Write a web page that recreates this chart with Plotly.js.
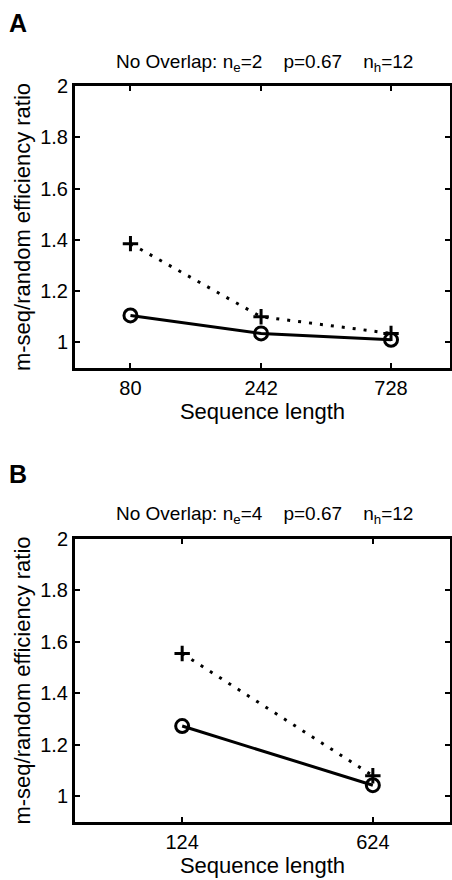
<!DOCTYPE html>
<html>
<head>
<meta charset="utf-8">
<script src="https://cdn.plot.ly/plotly-3.0.1.min.js"></script>
<style>html,body{margin:0;padding:0;background:#fff;} #chart{width:452px;height:880px;}</style>
</head>
<body>
<div id="chart"></div>
<script>
// Panel A data
const xA = [80, 242, 728];
const xA_labels = ['80', '242', '728'];
const circA = [1.105, 1.035, 1.01];
const plusA = [1.385, 1.10, 1.035];
// Panel B data
const xB = [124, 624];
const xB_labels = ['124', '624'];
const circB = [1.273, 1.043];
const plusB = [1.555, 1.08];
// Tick labels for y
const yTicks = [1, 1.2, 1.4, 1.6, 1.8, 2];
const yTickText = ['1', '1.2', '1.4', '1.6', '1.8', '2'];

const FONT = 'Liberation Sans, Arial, Helvetica, sans-serif';

function plusTrace(x, y, xa, ya) {
  return {
    x: x, y: y, xaxis: xa, yaxis: ya, type: 'scatter', mode: 'lines+markers',
    line: {color: 'black', width: 3, dash: '3px,8px'},
    marker: {symbol: 'cross-thin-open', size: 11, color: 'black', line: {color: 'black', width: 3}},
    showlegend: false, hoverinfo: 'x+y'
  };
}
function circTrace(x, y, xa, ya) {
  return {
    x: x, y: y, xaxis: xa, yaxis: ya, type: 'scatter', mode: 'lines+markers',
    line: {color: 'black', width: 3},
    marker: {symbol: 'circle-open', size: 13, color: 'black', line: {color: 'black', width: 3}},
    showlegend: false, hoverinfo: 'x+y'
  };
}

const data = [
  plusTrace(xA, plusA, 'x', 'y'),
  circTrace(xA, circA, 'x', 'y'),
  plusTrace(xB, plusB, 'x2', 'y2'),
  circTrace(xB, circB, 'x2', 'y2')
];

function xAxis(vals, txt, anchor) {
  return {
    type: 'log', range: [Math.log10(50), Math.log10(1200)],
    domain: [75/452, 450/452], anchor: anchor,
    tickmode: 'array', tickvals: vals, ticktext: txt,
    ticks: 'inside', ticklen: 5, tickwidth: 2, tickcolor: 'black',
    showline: true, linewidth: 3, linecolor: 'black', mirror: 'ticks',
    showgrid: false, zeroline: false,
    tickfont: {family: FONT, size: 20, color: 'black'},
    title: {text: 'Sequence length', font: {family: FONT, size: 22, color: 'black'}, standoff: 2}
  };
}
function yAxis(domain, anchor) {
  return {
    range: [0.9, 2], domain: domain, anchor: anchor,
    tickmode: 'array', tickvals: yTicks, ticktext: yTickText,
    ticks: 'inside', ticklen: 5, tickwidth: 2, tickcolor: 'black',
    showline: true, linewidth: 3, linecolor: 'black', mirror: 'ticks',
    showgrid: false, zeroline: false,
    tickfont: {family: FONT, size: 20, color: 'black'},
    title: {text: 'm-seq/random efficiency ratio', font: {family: FONT, size: 22, color: 'black'}, standoff: 4}
  };
}

const sp = '\u00A0\u00A0\u00A0\u00A0';
const layout = {
  width: 452, height: 880,
  margin: {l: 0, r: 0, t: 0, b: 0},
  paper_bgcolor: 'white', plot_bgcolor: 'white',
  font: {family: FONT, color: 'black'},
  xaxis: xAxis(xA, xA_labels, 'y'),
  yaxis: yAxis([1 - 368/880, 1 - 86/880], 'x'),
  xaxis2: xAxis(xB, xB_labels, 'y2'),
  yaxis2: yAxis([1 - 822/880, 1 - 539/880], 'x2'),
  annotations: [
    {text: '<b>A</b>', xref: 'paper', yref: 'paper', x: 7/452, y: 1 - 7/880, xanchor: 'left', yanchor: 'top', showarrow: false, font: {family: FONT, size: 25, color: 'black'}},
    {text: '<b>B</b>', xref: 'paper', yref: 'paper', x: 7/452, y: 1 - 458/880, xanchor: 'left', yanchor: 'top', showarrow: false, font: {family: FONT, size: 25, color: 'black'}},
    {text: 'No Overlap: n<sub>e</sub>=2' + sp + 'p=0.67' + sp + 'n<sub>h</sub>=12', xref: 'paper', yref: 'paper', x: 264/452, y: 1 - 63/880, xanchor: 'center', yanchor: 'middle', showarrow: false, font: {family: FONT, size: 19, color: 'black'}},
    {text: 'No Overlap: n<sub>e</sub>=4' + sp + 'p=0.67' + sp + 'n<sub>h</sub>=12', xref: 'paper', yref: 'paper', x: 264/452, y: 1 - 515/880, xanchor: 'center', yanchor: 'middle', showarrow: false, font: {family: FONT, size: 19, color: 'black'}}
  ]
};

Plotly.newPlot('chart', data, layout, {displayModeBar: false, staticPlot: true});
</script>
</body>
</html>
